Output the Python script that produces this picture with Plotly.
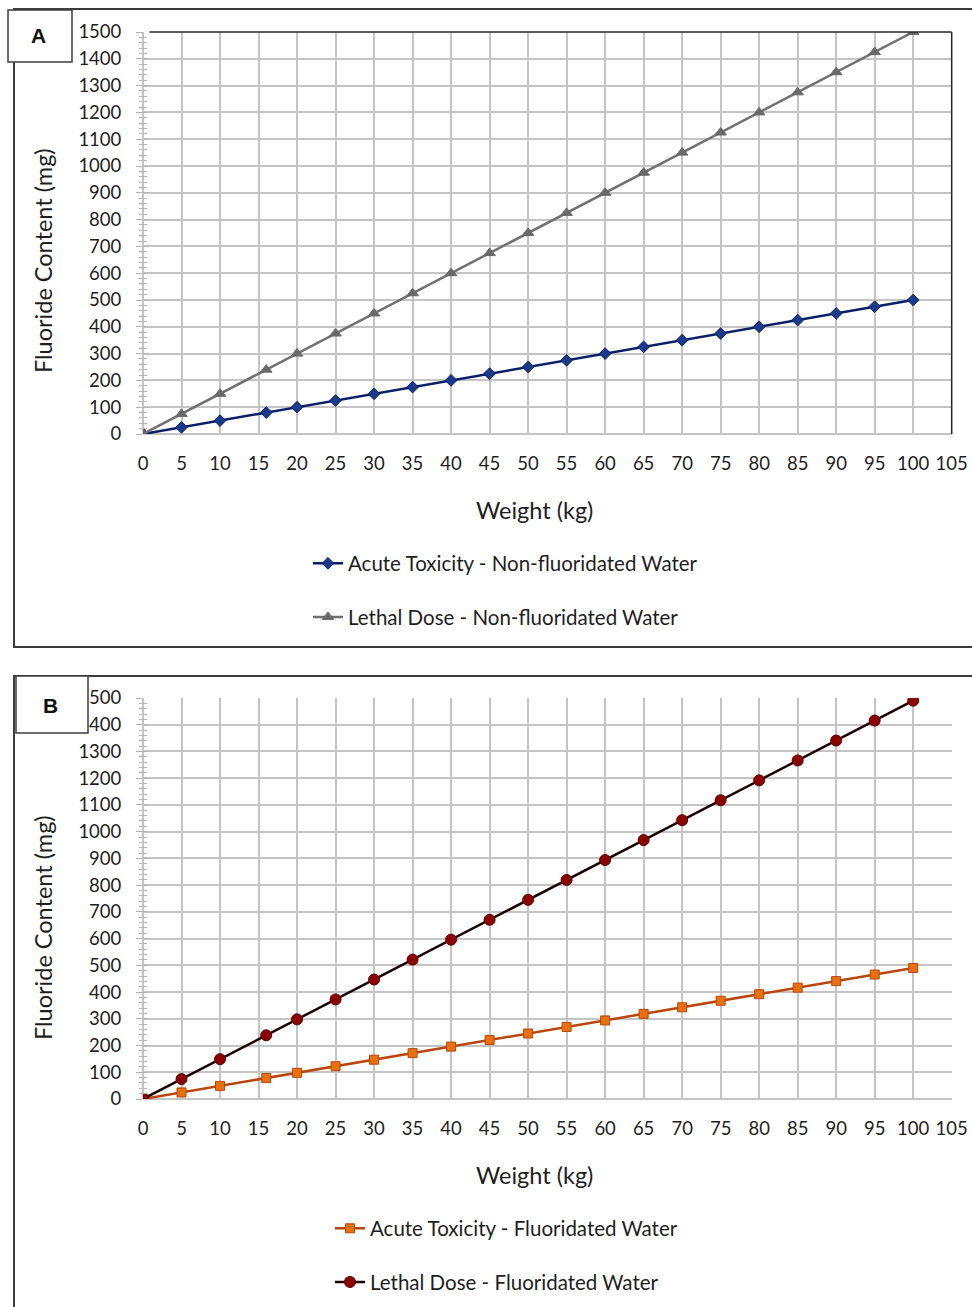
import plotly.graph_objects as go

# ---------------- data ----------------
weight_kg = [0, 5, 10, 16, 20, 25, 30, 35, 40, 45, 50, 55, 60, 65, 70, 75, 80, 85, 90, 95, 100]

acute_nonfluor = [0, 25, 50, 80, 100, 125, 150, 175, 200, 225, 250, 275, 300, 325, 350, 375, 400, 425, 450, 475, 500]
lethal_nonfluor = [0, 75, 150, 240, 300, 375, 450, 525, 600, 675, 750, 825, 900, 975, 1050, 1125, 1200, 1275, 1350, 1425, 1500]

acute_fluor = [0, 24.5, 49, 78.4, 98, 122.5, 147, 171.5, 196, 220.5, 245, 269.5, 294, 318.5, 343, 367.5, 392, 416.5, 441, 465.5, 490]
lethal_fluor = [0, 74.5, 149, 238.4, 298, 372.5, 447, 521.5, 596, 670.5, 745, 819.5, 894, 968.5, 1043, 1117.5, 1192, 1266.5, 1341, 1415.5, 1490]

x_ticks = list(range(0, 106, 5))
y_ticks = list(range(0, 1501, 100))

x_title = "Weight (kg)"
y_title = "Fluoride Content (mg)"
panel_labels = ["A", "B"]

W, H = 972, 1307
FONT = "Lato"
TXT = "#1e1e1e"
GRID = "#c4c4c4"


def px(x):
    return x / W


def py(y):
    return 1 - y / H


fig = go.Figure()

fig.add_trace(go.Scatter(
    x=weight_kg, y=acute_nonfluor, name="Acute Toxicity - Non-fluoridated Water",
    mode="lines+markers", line=dict(color="#0a1f66", width=2.5),
    marker=dict(symbol="diamond", size=9, color="#1b3a8c", line=dict(color="#0a1f66", width=1)),
    xaxis="x", yaxis="y", legend="legend", legendgroup="a1"))
fig.add_trace(go.Scatter(
    x=weight_kg, y=lethal_nonfluor, name="Lethal Dose - Non-fluoridated Water",
    mode="lines+markers", line=dict(color="#707070", width=2.5),
    marker=dict(symbol="triangle-up", size=10, color="#6a6a6a", line=dict(color="#666666", width=1)),
    xaxis="x", yaxis="y", legend="legend", legendgroup="a2"))
fig.add_trace(go.Scatter(
    x=weight_kg, y=acute_fluor, name="Acute Toxicity - Fluoridated Water",
    mode="lines+markers", line=dict(color="#b8450c", width=2.5),
    marker=dict(symbol="square", size=9, color="#e8710f", line=dict(color="#b8450c", width=1)),
    xaxis="x2", yaxis="y2", legend="legend2", legendgroup="b1"))
fig.add_trace(go.Scatter(
    x=weight_kg, y=lethal_fluor, name="Lethal Dose - Fluoridated Water",
    mode="lines+markers", line=dict(color="#1a0202", width=2.5),
    marker=dict(symbol="circle", size=11, color="#8b0000", line=dict(color="#5a0000", width=1)),
    xaxis="x2", yaxis="y2", legend="legend2", legendgroup="b2"))

xdom = [px(143), px(951.7)]
ydomA = [py(434), py(32)]
ydomB = [py(1099), py(698)]

tickfont = dict(family=FONT, size=18.5, color=TXT)
titlefont = dict(family=FONT, size=23.5, color=TXT)
legfont = dict(family=FONT, size=20.5, color=TXT)


def xaxis_cfg(anchor):
    return dict(domain=xdom, anchor=anchor, range=[0, 105], tickvals=x_ticks,
                showgrid=True, gridcolor=GRID, gridwidth=1.6,
                zeroline=True, zerolinecolor=GRID, zerolinewidth=1.6,
                showline=False, ticks="", tickfont=tickfont, ticklabelstandoff=16,
                automargin=False, fixedrange=True)


def yaxis_cfg(anchor, dom):
    return dict(domain=dom, anchor=anchor, range=[0, 1500], tickvals=y_ticks,
                showgrid=True, gridcolor=GRID, gridwidth=1.6,
                zeroline=True, zerolinecolor=GRID, zerolinewidth=1.6,
                showline=False, ticks="outside", ticklen=6, tickwidth=1.3, tickcolor="#b4b4b4",
                minor=dict(dtick=20, ticks="outside", ticklen=3, tickwidth=1.2, tickcolor="#b4b4b4", showgrid=False),
                tickfont=tickfont, ticklabelstandoff=11, automargin=False, fixedrange=True)


def ycross_cfg(overlay):
    return dict(overlaying=overlay, side="left", range=[0, 1500], tickvals=y_ticks,
                showgrid=False, zeroline=False, showline=False, showticklabels=False,
                ticks="inside", ticklen=5, tickwidth=1.3, tickcolor="#b4b4b4", automargin=False,
                minor=dict(dtick=20, ticks="inside", ticklen=4, tickwidth=1.2, tickcolor="#b4b4b4", showgrid=False),
                fixedrange=True)


fig.update_layout(
    width=W, height=H, autosize=False,
    margin=dict(l=0, r=0, t=0, b=0, pad=0, autoexpand=False),
    paper_bgcolor="white", plot_bgcolor="white",
    font=dict(family=FONT, color=TXT),
    xaxis=xaxis_cfg("y"), yaxis=yaxis_cfg("x", ydomA),
    xaxis2=xaxis_cfg("y2"), yaxis2=yaxis_cfg("x2", ydomB),
    yaxis3=ycross_cfg("y"), yaxis4=ycross_cfg("y2"),
    legend=dict(x=px(308), y=py(590.5), yanchor="middle", xanchor="left",
                font=legfont, tracegroupgap=24, bgcolor="rgba(0,0,0,0)", itemwidth=30),
    legend2=dict(x=px(330), y=py(1255.5), yanchor="middle", xanchor="left",
                 font=legfont, tracegroupgap=24, bgcolor="rgba(0,0,0,0)", itemwidth=30),
    showlegend=True,
)

# dummy traces to anchor overlay axes
fig.add_trace(go.Scatter(x=[None], y=[None], xaxis="x", yaxis="y3", showlegend=False, hoverinfo="skip"))
fig.add_trace(go.Scatter(x=[None], y=[None], xaxis="x2", yaxis="y4", showlegend=False, hoverinfo="skip"))

BORDER = "#3c3c3c"
shapes = [
    # panel frames
    dict(type="rect", xref="paper", yref="paper", x0=px(14), x1=px(990), y0=py(647), y1=py(9),
         line=dict(color=BORDER, width=2), fillcolor="rgba(0,0,0,0)", layer="above"),
    dict(type="rect", xref="paper", yref="paper", x0=px(14), x1=px(990), y0=py(1320), y1=py(676),
         line=dict(color=BORDER, width=2), fillcolor="rgba(0,0,0,0)", layer="above"),
    # dark plot-area border (top & right) for panel A
    dict(type="line", xref="x domain", yref="y domain", x0=0.008, x1=1, y0=1, y1=1,
         line=dict(color="#262626", width=1.5), layer="above"),
    dict(type="line", xref="x domain", yref="y domain", x0=1, x1=1, y0=0, y1=1,
         line=dict(color="#262626", width=1.5), layer="above"),
    # label boxes
    dict(type="rect", xref="paper", yref="paper", x0=px(8), x1=px(72), y0=py(62), y1=py(10),
         line=dict(color=BORDER, width=1.5), fillcolor="white", layer="above"),
    dict(type="rect", xref="paper", yref="paper", x0=px(16), x1=px(88), y0=py(733), y1=py(676),
         line=dict(color=BORDER, width=1.5), fillcolor="white", layer="above"),
]
fig.update_layout(shapes=shapes)

# panel labels
for lab, (cx, cy) in zip(panel_labels, [(38, 36), (50, 705)]):
    fig.add_annotation(x=px(cx), y=py(cy), xref="paper", yref="paper", text=f"<b>{lab}</b>",
                       showarrow=False, xanchor="center", yanchor="middle",
                       font=dict(family="Liberation Sans", size=21, color="#111111"))

# axis titles
for cy in (510, 1175):
    fig.add_annotation(x=px(534), y=py(cy), xref="paper", yref="paper", text=x_title,
                       showarrow=False, xanchor="center", yanchor="middle", font=titlefont)
for cy in (261, 928):
    fig.add_annotation(x=px(43), y=py(cy), xref="paper", yref="paper", text=y_title, textangle=-90,
                       showarrow=False, xanchor="center", yanchor="middle", font=titlefont)

fig.write_html(
    "out.html",
    config={"displayModeBar": False},
    post_script="document.documentElement.style.margin='0';document.documentElement.style.overflow='hidden';"
                "document.body.style.margin='0';document.body.style.padding='0';document.body.style.overflow='hidden';",
)
